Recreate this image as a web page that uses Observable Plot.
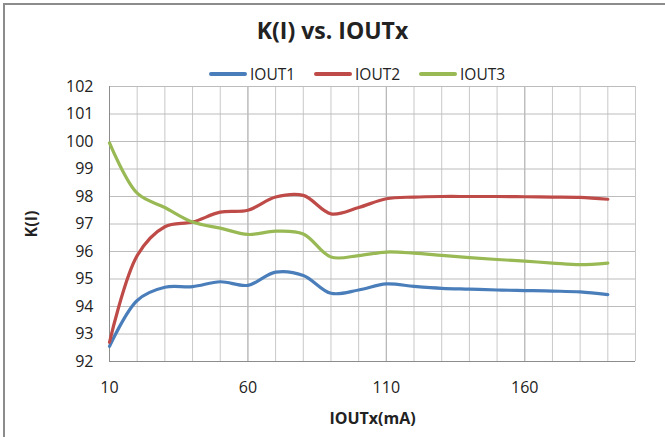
<!DOCTYPE html>
<html>
<head>
<meta charset="utf-8">
<script src="https://cdn.jsdelivr.net/npm/d3@7"></script>
<script src="https://cdn.jsdelivr.net/npm/@observablehq/plot@0.6"></script>
<style>
  html, body { margin: 0; padding: 0; background: #fff; overflow: hidden; }
  #wrap { position: relative; width: 665px; height: 437px; overflow: hidden; font-family: "Open Sans", sans-serif; color: #222; }
  #border { position: absolute; left: 3px; top: 3px; width: 700px; height: 500px; border: 2px solid #8c8c8c; box-sizing: border-box; pointer-events: none; }
  #title { position: absolute; left: 0; width: 665px; top: 14px; text-align: center; font-weight: bold; font-size: 23px; }
  #legend { position: absolute; top: 63px; left: 209px; display: flex; font-size: 15.5px; align-items: center; }
  .item { display: flex; align-items: center; width: 105px; }
  .sw { width: 38px; height: 4px; border-radius: 2px; margin-right: 3px; }
  #chart { position: absolute; left: 0; top: 0; }
  svg [aria-label="x-axis label"] text, svg [aria-label="y-axis label"] text { font-weight: bold; }
</style>
</head>
<body>
<div id="wrap">
  <div id="chart"></div>
  <div id="title">K(I) vs. IOUTx</div>
  <div id="legend"></div>
  <div id="border"></div>
</div>
<script>
const xs    = [10, 20, 30, 40, 50, 60, 70, 80, 90, 100, 110, 120, 130, 140, 150, 160, 170, 180, 190];
const iout1 = [92.55, 94.22, 94.7, 94.72, 94.9, 94.77, 95.25, 95.13, 94.48, 94.6, 94.82, 94.73, 94.66, 94.63, 94.6, 94.58, 94.56, 94.53, 94.43];
const iout2 = [92.7, 95.85, 96.9, 97.07, 97.43, 97.5, 97.98, 98.04, 97.37, 97.6, 97.92, 97.98, 98.0, 98.0, 98.0, 97.99, 97.98, 97.97, 97.9];
const iout3 = [99.95, 98.12, 97.6, 97.07, 96.85, 96.62, 96.74, 96.64, 95.8, 95.85, 95.98, 95.94, 95.86, 95.78, 95.71, 95.65, 95.58, 95.52, 95.58];
const seriesNames  = ["IOUT1", "IOUT2", "IOUT3"];
const seriesColors = ["#4a7ebb", "#be4b48", "#98b954"];
const xTicks = [10, 60, 110, 160];
const xGrid  = [10, 20, 30, 40, 50, 60, 70, 80, 90, 100, 110, 120, 130, 140, 150, 160, 170, 180, 190, 200];
const yTicks = [92, 93, 94, 95, 96, 97, 98, 99, 100, 101, 102];

const seriesValues = [iout1, iout2, iout3];
const data = [];
seriesNames.forEach((name, s) => {
  xs.forEach((x, i) => data.push({series: name, x, y: seriesValues[s][i]}));
});

const chart = Plot.plot({
  width: 665,
  height: 437,
  marginLeft: 109,
  marginRight: 30,
  marginTop: 86,
  marginBottom: 76,
  style: { fontFamily: "Open Sans, sans-serif", fontSize: "16px", color: "#222", background: "transparent" },
  x: { domain: [10, 200] },
  y: { domain: [92, 102] },
  color: { domain: seriesNames, range: seriesColors },
  marks: [
    Plot.ruleX(xGrid, { stroke: "#c8c8c8", strokeWidth: 1 }),
    Plot.ruleX(xTicks, { stroke: "#b4b4b4", strokeWidth: 1 }),
    Plot.ruleY(yTicks, { stroke: "#bcbcbc", strokeWidth: 1 }),
    Plot.ruleY([92], { stroke: "#8c8c8c", strokeWidth: 1 }),
    Plot.ruleX([10], { stroke: "#8c8c8c", strokeWidth: 1 }),
    Plot.axisX({ ticks: xTicks, tickSize: 0, tickPadding: 20, label: "IOUTx(mA)", labelAnchor: "center", labelArrow: "none", labelOffset: 62, fontSize: 16 }),
    Plot.axisY({ ticks: yTicks, tickSize: 0, tickPadding: 16, label: "K(I)", labelAnchor: "center", labelArrow: "none", labelOffset: 84, fontSize: 16 }),
    Plot.line(data, { x: "x", y: "y", z: "series", stroke: "series", strokeWidth: 3.2, curve: "catmull-rom" })
  ]
});
document.getElementById("chart").appendChild(chart);

const legend = document.getElementById("legend");
seriesNames.forEach((name, i) => {
  const it = document.createElement("div");
  it.className = "item";
  it.innerHTML = `<div class="sw" style="background:${seriesColors[i]}"></div><span>${name}</span>`;
  legend.appendChild(it);
});
</script>
</body>
</html>
